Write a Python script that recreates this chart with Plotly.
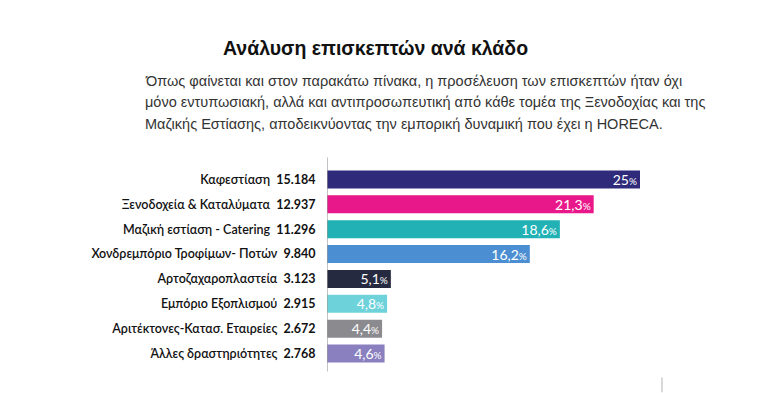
import plotly.graph_objects as go

categories = ["Καφεστίαση", "Ξενοδοχεία & Καταλύματα", "Μαζική εστίαση - Catering",
              "Χονδρεμπόριο Τροφίμων- Ποτών", "Αρτοζαχαροπλαστεία", "Εμπόριο Εξοπλισμού",
              "Αριτέκτονες-Κατασ. Εταιρείες", "Άλλες δραστηριότητες"]
visitors = ["15.184", "12.937", "11.296", "9.840", "3.123", "2.915", "2.672", "2.768"]
percent = [25, 21.3, 18.6, 16.2, 5.1, 4.8, 4.4, 4.6]
pct_labels = ["25", "21,3", "18,6", "16,2", "5,1", "4,8", "4,4", "4,6"]
colors = ["#2f2a7a", "#e9188a", "#22b2b6", "#4b8fd2", "#262a40", "#6dd2da", "#8b8b8f", "#8a80bf"]
paragraph = [
    "Όπως φαίνεται και στον παρακάτω πίνακα, η προσέλευση των επισκεπτών ήταν όχι",
    "μόνο εντυπωσιακή, αλλά και αντιπροσωπευτική από κάθε τομέα της Ξενοδοχίας και της",
    "Μαζικής Εστίασης, αποδεικνύοντας την εμπορική δυναμική που έχει η HORECA.",
]
title = "Ανάλυση επισκεπτών ανά κλάδο"

ticktext = [f"{c}  <b>{v}</b>" for c, v in zip(categories, visitors)]
bar_text = [f"{p}<span style='font-size:10px'>%</span>" for p in pct_labels]

# page body has an 8px margin: work in window coordinates, then shift
OFF = 8
W, H = 780, 393
PL, PR, PT, PB = 327 - OFF, 700 - OFF, 166.5 - OFF, 366.5 - OFF
pw, ph = PR - PL, PB - PT

def px(x):
    return (x - OFF - PL) / pw

def py(y):
    return (PB - (y - OFF)) / ph

fig = go.Figure(go.Bar(
    y=categories, x=percent, orientation="h",
    marker=dict(color=colors, line=dict(width=0)),
    width=0.72,
    text=bar_text, textposition="inside", insidetextanchor="end",
    textfont=dict(color="white", size=14, family="Lato"),
    textangle=0, constraintext="none",
    cliponaxis=False,
))

annotations = [
    dict(text=f"<b>{title}</b>", xref="paper", yref="paper",
         x=px(375), y=py(47), xanchor="center", yanchor="middle",
         showarrow=False, font=dict(family="Liberation Sans", size=19.5, color="#111111")),
]
for i, line in enumerate(paragraph):
    annotations.append(dict(
        text=line, xref="paper", yref="paper", x=px(143), y=py(80 + 21.5 * i),
        xanchor="left", yanchor="middle", align="left", showarrow=False,
        font=dict(family="Liberation Sans", size=14.5, color="#333333")))

fig.update_layout(
    width=W, height=H,
    margin=dict(l=PL, r=W - PR, t=PT, b=H - PB),
    paper_bgcolor="white", plot_bgcolor="white",
    showlegend=False,
    xaxis=dict(range=[0, pw / 12.52], visible=False),
    yaxis=dict(
        autorange="reversed", tickmode="array", tickvals=categories, ticktext=ticktext,
        ticks="outside", ticklen=8, tickcolor="rgba(0,0,0,0)",
        tickfont=dict(family="Lato", size=12.5, color="#111111", weight=600),
        showline=False, showgrid=False, zeroline=False,
    ),
    shapes=[
        dict(type="line", xref="x", yref="paper", x0=0, x1=0, y0=py(372), y1=py(157),
             line=dict(color="#9a9a9a", width=1.2)),
        dict(type="line", xref="paper", yref="paper", x0=px(662), x1=px(662),
             y0=py(378), y1=py(393), line=dict(color="#cccccc", width=1.5)),
    ],
    annotations=annotations,
)

fig.write_html("out.html")
